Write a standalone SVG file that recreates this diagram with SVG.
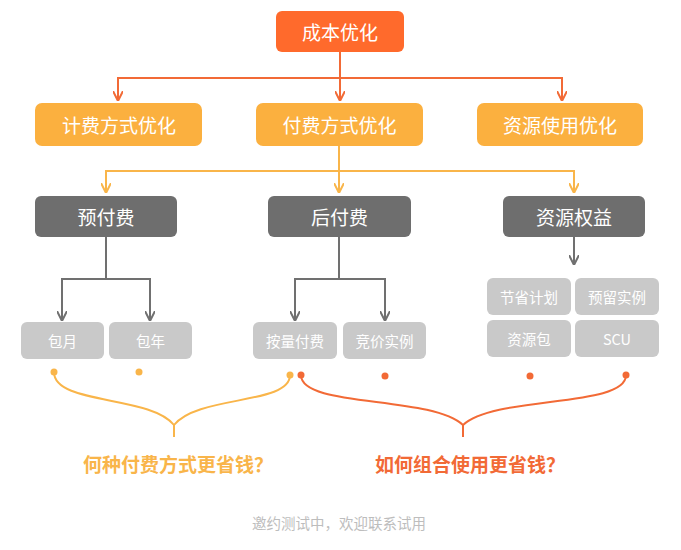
<svg xmlns="http://www.w3.org/2000/svg" width="681" height="550" viewBox="0 0 681 550">
<defs>
<style>
text{font-family:"Noto Sans CJK SC","Noto Sans",sans-serif;text-anchor:middle;dominant-baseline:central}
.t{fill:#fff}
.top{fill:#FF6A2C}
.l2{fill:#FBB03F}
.l3{fill:#6E6E6E}
.l4{fill:#C9C9C9}
.cr{stroke:#F26A36;stroke-width:2;fill:none}
.cy{stroke:#F9B54A;stroke-width:2;fill:none}
.cg{stroke:#707070;stroke-width:2;fill:none}
</style>
<marker id="ar" viewBox="0 0 10 10" refX="9" refY="5" markerWidth="5" markerHeight="5" orient="auto" markerUnits="strokeWidth"><path d="M0,0 L10,5 L0,10" fill="none" stroke="#F26A36" stroke-width="2"/></marker>
<marker id="ay" viewBox="0 0 10 10" refX="9" refY="5" markerWidth="5" markerHeight="5" orient="auto" markerUnits="strokeWidth"><path d="M0,0 L10,5 L0,10" fill="none" stroke="#F9B54A" stroke-width="2"/></marker>
<marker id="ag" viewBox="0 0 10 10" refX="9" refY="5" markerWidth="5" markerHeight="5" orient="auto" markerUnits="strokeWidth"><path d="M0,0 L10,5 L0,10" fill="none" stroke="#707070" stroke-width="2"/></marker>
</defs>
<rect width="681" height="550" fill="#fff"/>
<g id="connectors">
<path class="cr" d="M340,52 V100" marker-end="url(#ar)"/>
<path class="cr" d="M118,100 V78 H562 V100" marker-end="url(#ar)"/>
<path class="cr" d="M118,78 V100" marker-end="url(#ar)"/>
<path class="cy" d="M339,146 V192" marker-end="url(#ay)"/>
<path class="cy" d="M106,192 V171 H574 V192" marker-end="url(#ay)"/>
<path class="cy" d="M106,171 V192" marker-end="url(#ay)"/>
<path class="cg" d="M106,237 V279"/>
<path class="cg" d="M62,320 V279 H150 V320" marker-end="url(#ag)"/>
<path class="cg" d="M62,279 V320" marker-end="url(#ag)"/>
<path class="cg" d="M339,237 V279"/>
<path class="cg" d="M295,320 V279 H385 V320" marker-end="url(#ag)"/>
<path class="cg" d="M295,279 V320" marker-end="url(#ag)"/>
<path class="cg" d="M574,237 V264" marker-end="url(#ag)"/>
</g>
<g id="n-top"><rect class="top" x="276" y="11" width="128" height="41" rx="6"/><text class="t" x="340" y="31.5" font-size="19">成本优化</text></g>
<g id="n-jifei"><rect class="l2" x="35" y="103" width="167" height="43" rx="7"/><text class="t" x="119" y="124.5" font-size="19">计费方式优化</text></g>
<g id="n-fufei"><rect class="l2" x="256" y="103" width="167" height="43" rx="7"/><text class="t" x="339.5" y="124.5" font-size="19">付费方式优化</text></g>
<g id="n-ziyuan"><rect class="l2" x="477" y="103" width="166" height="43" rx="7"/><text class="t" x="560" y="124.5" font-size="19">资源使用优化</text></g>
<g id="n-yufu"><rect class="l3" x="35" y="196" width="142" height="41" rx="6"/><text class="t" x="106" y="216.5" font-size="19">预付费</text></g>
<g id="n-houfu"><rect class="l3" x="268" y="196" width="143" height="41" rx="6"/><text class="t" x="339.5" y="216.5" font-size="19">后付费</text></g>
<g id="n-quanyi"><rect class="l3" x="503" y="196" width="142" height="41" rx="6"/><text class="t" x="574" y="216.5" font-size="19">资源权益</text></g>
<g id="n-baoyue"><rect class="l4" x="21" y="322" width="83" height="37" rx="6"/><text class="t" x="62.5" y="340.5" font-size="14.5">包月</text></g>
<g id="n-baonian"><rect class="l4" x="109" y="322" width="83" height="37" rx="6"/><text class="t" x="150.5" y="340.5" font-size="14.5">包年</text></g>
<g id="n-anliang"><rect class="l4" x="253" y="322" width="84" height="37" rx="6"/><text class="t" x="295" y="340.5" font-size="14.5">按量付费</text></g>
<g id="n-jingjia"><rect class="l4" x="343" y="322" width="83" height="37" rx="6"/><text class="t" x="384.5" y="340.5" font-size="14.5">竞价实例</text></g>
<g id="n-jiesheng"><rect class="l4" x="487" y="278" width="84" height="37" rx="6"/><text class="t" x="529" y="296.5" font-size="14.5">节省计划</text></g>
<g id="n-yuliu"><rect class="l4" x="575" y="278" width="84" height="37" rx="6"/><text class="t" x="617" y="296.5" font-size="14.5">预留实例</text></g>
<g id="n-ziyuanbao"><rect class="l4" x="487" y="320" width="84" height="37" rx="6"/><text class="t" x="529" y="338.5" font-size="14.5">资源包</text></g>
<g id="n-scu"><rect class="l4" x="575" y="320" width="84" height="37" rx="6"/><text class="t" x="617" y="338.5" font-size="14.5">SCU</text></g>
<g id="brace-y">
<path d="M54,372 C54,405 150,395 174,425 C198,395 290,405 290,375 M174,425 V437" stroke="#F9B54A" stroke-width="2" fill="none"/>
<circle cx="54" cy="372" r="3.5" fill="#F9B54A"/>
<circle cx="139" cy="372" r="3.5" fill="#F9B54A"/>
<circle cx="290" cy="375" r="3.5" fill="#F9B54A"/>
</g>
<g id="brace-r">
<path d="M301,375 C301,408 430,395 463,425 C496,395 626,408 626,375 M463,425 V437" stroke="#F26A36" stroke-width="2" fill="none"/>
<circle cx="301" cy="375" r="3.5" fill="#F26A36"/>
<circle cx="385" cy="376" r="3.5" fill="#F26A36"/>
<circle cx="530" cy="376" r="3.5" fill="#F26A36"/>
<circle cx="626" cy="375" r="3.5" fill="#F26A36"/>
</g>
<text x="178" y="463" font-size="19" font-weight="bold" fill="#F9B54A">何种付费方式更省钱？</text>
<text x="470" y="463" font-size="19" font-weight="bold" fill="#F26A36">如何组合使用更省钱？</text>
<text x="339" y="522" font-size="14.5" fill="#BDBDBD">邀约测试中，欢迎联系试用</text>
</svg>
